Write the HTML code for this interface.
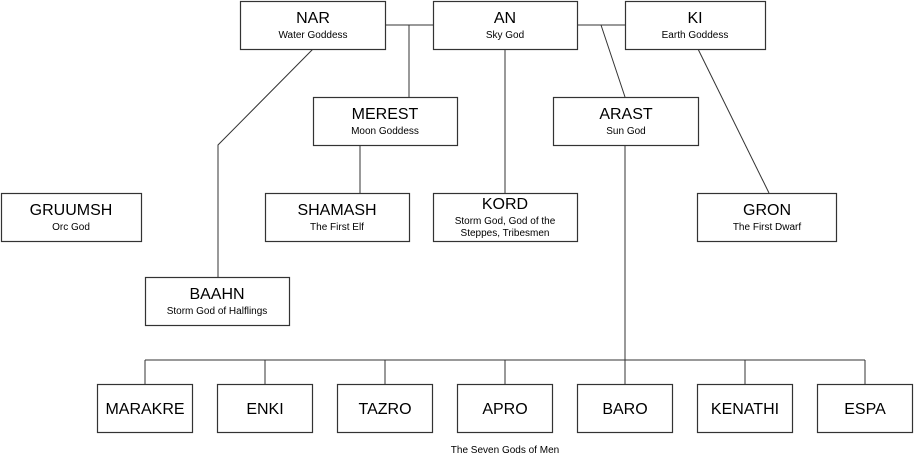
<!DOCTYPE html>
<html><head><meta charset="utf-8"><style>html,body{margin:0;padding:0;background:#fff}svg{display:block}</style></head><body>
<svg width="914" height="458" viewBox="0 0 914 458" xmlns="http://www.w3.org/2000/svg" font-family="Liberation Sans, Arial, sans-serif">
<g stroke="#333" stroke-width="1" fill="none">
<line x1="385" y1="25" x2="433" y2="25"/>
<line x1="409" y1="25" x2="409" y2="97"/>
<line x1="577" y1="25" x2="625" y2="25"/>
<line x1="601" y1="25" x2="625" y2="97"/>
<line x1="505" y1="49" x2="505" y2="193"/>
<line x1="360" y1="145" x2="360" y2="193"/>
<line x1="698" y1="49" x2="769" y2="193"/>
<polyline points="313,49 218,145 218,277"/>
<line x1="625" y1="145" x2="625" y2="384"/>
<line x1="145" y1="360" x2="865" y2="360"/>
<line x1="145" y1="360" x2="145" y2="384"/>
<line x1="265" y1="360" x2="265" y2="384"/>
<line x1="385" y1="360" x2="385" y2="384"/>
<line x1="505" y1="360" x2="505" y2="384"/>
<line x1="745" y1="360" x2="745" y2="384"/>
<line x1="865" y1="360" x2="865" y2="384"/>
</g>
<g stroke="#333" stroke-width="1.2" fill="#fff">
<rect x="240.5" y="1.5" width="145" height="48"/>
<rect x="433.5" y="1.5" width="144" height="48"/>
<rect x="625.5" y="1.5" width="140" height="48"/>
<rect x="313.5" y="97.5" width="144" height="48"/>
<rect x="553.5" y="97.5" width="145" height="48"/>
<rect x="1.5" y="193.5" width="140" height="48"/>
<rect x="265.5" y="193.5" width="144" height="48"/>
<rect x="433.5" y="193.5" width="144" height="48"/>
<rect x="697.5" y="193.5" width="139" height="48"/>
<rect x="145.5" y="277.5" width="144" height="48"/>
<rect x="97.5" y="384.5" width="95" height="48"/>
<rect x="217.5" y="384.5" width="95" height="48"/>
<rect x="337.5" y="384.5" width="95" height="48"/>
<rect x="457.5" y="384.5" width="95" height="48"/>
<rect x="577.5" y="384.5" width="95" height="48"/>
<rect x="697.5" y="384.5" width="95" height="48"/>
<rect x="817.5" y="384.5" width="95" height="48"/>
</g>
<g fill="#000" text-anchor="middle">
<g font-size="16">
<text x="313" y="23">NAR</text><text x="505" y="23">AN</text><text x="695" y="23">KI</text>
<text x="385" y="119">MEREST</text><text x="626" y="119">ARAST</text>
<text x="71" y="215">GRUUMSH</text><text x="337" y="215">SHAMASH</text><text x="505" y="209">KORD</text><text x="767" y="215">GRON</text>
<text x="217" y="299">BAAHN</text>
<text x="145" y="414">MARAKRE</text><text x="265" y="414">ENKI</text><text x="385" y="414">TAZRO</text><text x="505" y="414">APRO</text><text x="625" y="414">BARO</text><text x="745" y="414">KENATHI</text><text x="865" y="414">ESPA</text>
</g>
<g font-size="10">
<text x="313" y="38">Water Goddess</text><text x="505" y="38">Sky God</text><text x="695" y="38">Earth Goddess</text>
<text x="385" y="134">Moon Goddess</text><text x="626" y="134">Sun God</text>
<text x="71" y="230">Orc God</text><text x="337" y="230">The First Elf</text><text x="505" y="224">Storm God, God of the</text><text x="505" y="236">Steppes, Tribesmen</text><text x="767" y="230">The First Dwarf</text>
<text x="217" y="314">Storm God of Halflings</text>
<text x="505" y="453">The Seven Gods of Men</text>
</g>
</g>
</svg>
</body></html>
